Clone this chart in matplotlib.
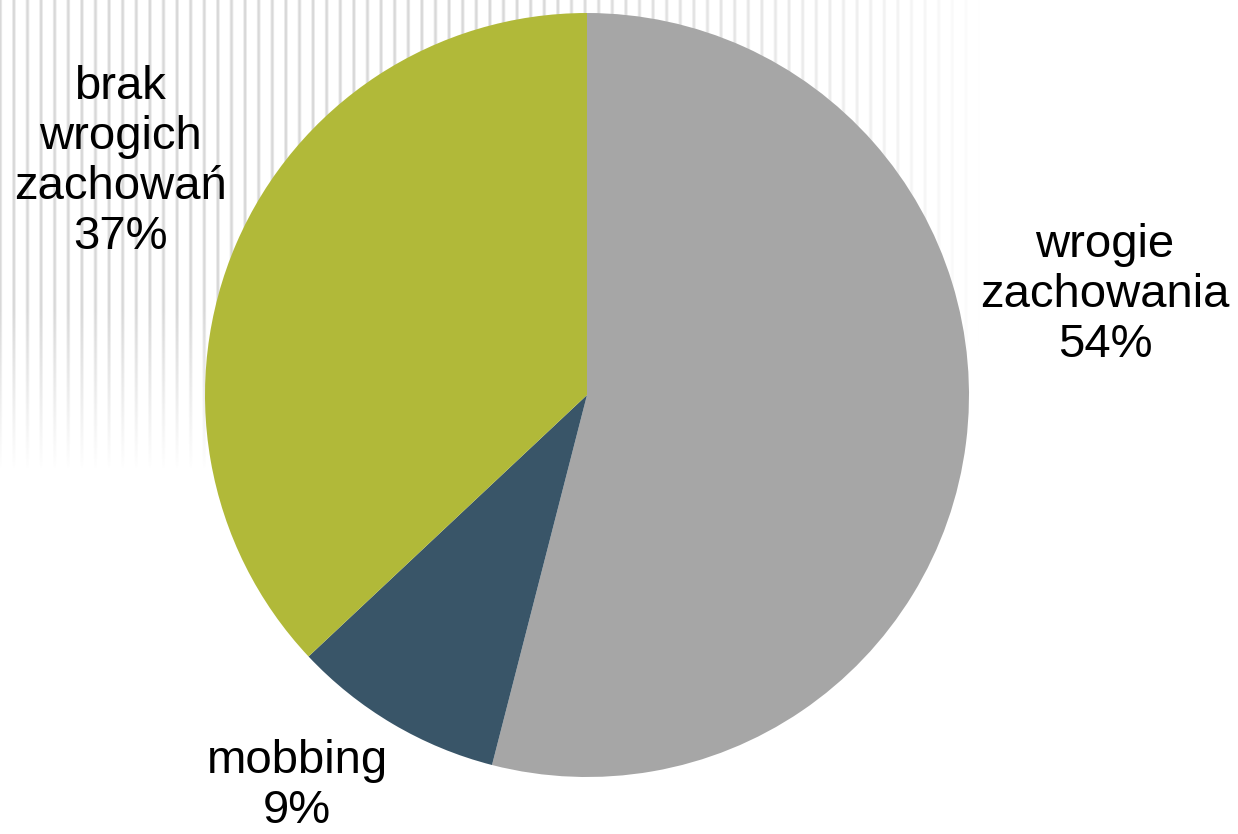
import numpy as np
import matplotlib
matplotlib.use("Agg")
import matplotlib.pyplot as plt

labels = ["wrogie\nzachowania", "mobbing", "brak\nwrogich\nzachowań"]
shares = [54, 9, 37]
colors = ["#A6A6A6", "#395568", "#B1B939"]

W, H = 1238, 834
fig = plt.figure(figsize=(W / 100, H / 100), dpi=100)
ax = fig.add_axes([0, 0, 1, 1])

# slide background: thin vertical grey stripes fading right and down
xx = np.arange(W)
yy = np.arange(H)
stripe = np.clip(1.3 - np.abs(((xx + 7) % 13.6) - 6.8) / 1.8, 0, 1)
fade_x = np.clip((980 - xx) / 450, 0, 1) ** 0.7
fade_y = np.clip((470 - yy) / 160, 0, 1)
alpha = (fade_y[:, None] * (stripe * fade_x)[None, :]) * 0.3
rgba = np.zeros((H, W, 4))
rgba[..., :3] = 0.5
rgba[..., 3] = alpha
ax.imshow(rgba, extent=(0, W, 0, H), origin="upper", zorder=0, interpolation="nearest")

cx, cy, r = 587, H - 395, 382
ax.pie(shares, colors=colors, startangle=90, counterclock=False,
       center=(cx, cy), radius=r, frame=True,
       wedgeprops=dict(linewidth=0))
ax.set_xlim(0, W)
ax.set_ylim(0, H)
ax.set_aspect("equal")
ax.axis("off")

font = dict(fontsize=34, family="Liberation Sans", ha="center", va="center",
            linespacing=1.17, color="black")
pos = [(1105, H - 295), (297, H - 786), (120, H - 162)]
for lab, s, (x, y) in zip(labels, shares, pos):
    ax.text(x, y, f"{lab}\n{s}%", **font)

fig.savefig("out.png", dpi=100)
